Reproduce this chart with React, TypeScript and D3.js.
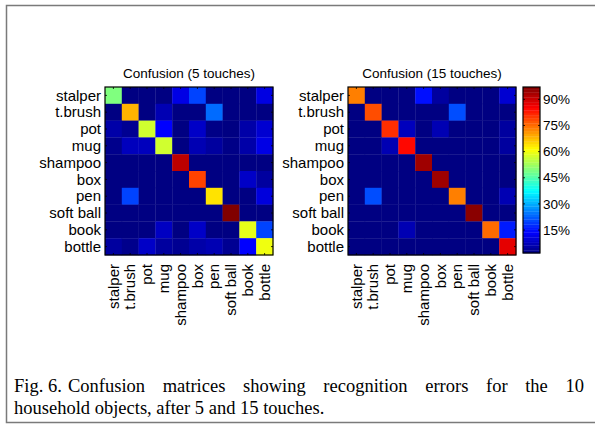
import React from "react";
import * as d3 from "d3";

const classes = ["stalper", "t.brush", "pot", "mug", "shampoo", "box", "pen", "soft ball", "book", "bottle"];

// Confusion after 5 touches (percent), rows = true class, cols = predicted
const conf5: number[][] = [
  [49.5, 2, 2, 2, 11.3, 20, 2, 2, 2, 11],
  [2, 68.5, 2, 6.6, 2, 2, 23.7, 2, 2, 2],
  [5.6, 3.5, 57, 13.7, 2, 8.5, 2.5, 2, 5.6, 9.4],
  [3, 7.5, 7.5, 57, 2, 6.6, 4.7, 2.5, 5.6, 11.3],
  [2, 2, 2, 2, 91.4, 2, 2, 2, 2, 2],
  [2, 2, 2, 2, 2, 79, 2, 2, 8.5, 4.7],
  [2, 20, 2, 2, 2, 2, 64, 2, 2, 10.4],
  [2, 2, 2, 2, 2, 2, 2, 97, 2, 2],
  [2, 2, 2, 8, 2, 8.5, 2, 2, 59, 20],
  [4.7, 3, 8.5, 4.7, 3.5, 5.6, 6.6, 3.5, 13.7, 60],
];

// Confusion after 15 touches (percent)
const conf15: number[][] = [
  [73.3, 2, 2, 2, 15, 4.7, 2, 2, 2, 9.4],
  [2, 78, 2, 2, 2, 2, 20.9, 2, 2, 2],
  [2, 2, 80.9, 7.5, 2, 6.6, 2, 2, 2, 4.7],
  [2, 2, 6.6, 84.5, 2, 2, 2, 2, 2, 4.7],
  [2, 2, 2, 2, 94.2, 2, 2, 2, 2, 2],
  [2, 2, 2, 2, 2, 94.2, 2, 2, 2, 2],
  [2, 20.9, 2, 2, 2, 2, 73.3, 2, 2, 6.6],
  [2, 2, 2, 2, 2, 2, 2, 96.1, 2, 2],
  [2, 2, 2, 6.6, 2, 2, 2, 2, 75.2, 16.1],
  [2, 2, 2, 2, 2, 2, 2, 2, 2, 87.6],
];

const colorbarTicks = [15, 30, 45, 60, 75, 90];
const titles = ["Confusion (5 touches)", "Confusion (15 touches)"];
const colorDomain: [number, number] = [1.8, 97.1];

function jet(t: number): string {
  const c = (v: number) => Math.max(0, Math.min(1, v));
  const r = c(1.5 - Math.abs(4 * t - 3));
  const g = c(1.5 - Math.abs(4 * t - 2));
  const b = c(1.5 - Math.abs(4 * t - 1));
  return d3.rgb(r * 255, g * 255, b * 255).formatHex();
}

const colorNorm = d3.scaleLinear().domain(colorDomain).range([0, 1]).clamp(true);
const color = (v: number) => jet(colorNorm(v));

const FONT = "'Liberation Sans', Arial, Helvetica, sans-serif";
const FS = 13.5;
const LFS = 15;
const SERIF = "'Liberation Serif', 'Times New Roman', serif";

function Matrix({ data, x0, y0, size, title }: { data: number[][]; x0: number; y0: number; size: number; title: string }) {
  const band = d3.scaleBand<number>().domain(d3.range(classes.length)).range([0, size]);
  const bw = band.bandwidth();
  return (
    <g transform={`translate(${x0},${y0})`}>
      <text x={size / 2} y={-9} textAnchor="middle" fontFamily={FONT} fontSize={FS}>{title}</text>
      {data.map((row, i) =>
        row.map((v, j) => (
          <rect key={`${i}-${j}`} x={band(j)!} y={band(i)!} width={bw + 0.3} height={bw + 0.3} fill={color(v)} />
        ))
      )}
      <rect x={0} y={0} width={size} height={size} fill="none" stroke="#000" strokeWidth={1.2} />
      {classes.map((c, k) => {
        const cx = band(k)! + bw / 2;
        return (
          <g key={c}>
            <line x1={cx} x2={cx} y1={size} y2={size - 2} stroke="#000" strokeWidth={0.8} />
            <line x1={cx} x2={cx} y1={0} y2={2} stroke="#000" strokeWidth={0.8} />
            <line x1={0} x2={2} y1={cx} y2={cx} stroke="#000" strokeWidth={0.8} />
            <line x1={size} x2={size - 2} y1={cx} y2={cx} stroke="#000" strokeWidth={0.8} />
            <text x={-4} y={cx} dy="0.35em" textAnchor="end" fontFamily={FONT} fontSize={LFS}>{c}</text>
            <text transform={`translate(${cx},${size + 9}) rotate(-90)`} dy="0.35em" textAnchor="end" fontFamily={FONT} fontSize={LFS}>{c}</text>
          </g>
        );
      })}
    </g>
  );
}

function Colorbar({ x0, y0, w, h }: { x0: number; y0: number; w: number; h: number }) {
  const y = d3.scaleLinear().domain(colorDomain).range([y0 + h, y0]);
  const levels = d3.range(64).map((k) => colorDomain[0] + ((k + 0.5) / 64) * (colorDomain[1] - colorDomain[0]));
  const step = h / 64;
  return (
    <g>
      {levels.map((v, k) => (
        <rect key={k} x={x0} y={y0 + h - (k + 1) * step} width={w} height={step + 0.3} fill={color(v)} />
      ))}
      <rect x={x0} y={y0} width={w} height={h} fill="none" stroke="#000" strokeWidth={1.2} />
      {colorbarTicks.map((t) => (
        <g key={t}>
          <line x1={x0} x2={x0 + 2} y1={y(t)} y2={y(t)} stroke="#000" strokeWidth={0.8} />
          <line x1={x0 + w} x2={x0 + w - 2} y1={y(t)} y2={y(t)} stroke="#000" strokeWidth={0.8} />
          <text x={x0 + w + 3} y={y(t)} dy="0.35em" fontFamily={FONT} fontSize={FS}>{`${t}%`}</text>
        </g>
      ))}
    </g>
  );
}

export default function App() {
  return (
    <svg width={595} height={426} style={{ position: "absolute", left: 0, top: 0, background: "#fff" }}>
      <rect x={6.5} y={5.5} width={600} height={417} fill="none" stroke="#7a7a7a" strokeWidth={1.5} />
      <Matrix data={conf5} x0={105} y0={87} size={168} title={titles[0]} />
      <Matrix data={conf15} x0={348} y0={87} size={168} title={titles[1]} />
      <Colorbar x0={523} y0={87} w={17} h={166} />
      <text x={14} y={392} fontFamily={SERIF} fontSize={18.5}>Fig. 6.</text>
      <text x={68} y={392} fontFamily={SERIF} fontSize={18.5} wordSpacing={13}>Confusion matrices showing recognition errors for the 10</text>
      <text x={14} y={414} fontFamily={SERIF} fontSize={18.5}>household objects, after 5 and 15 touches.</text>
    </svg>
  );
}
